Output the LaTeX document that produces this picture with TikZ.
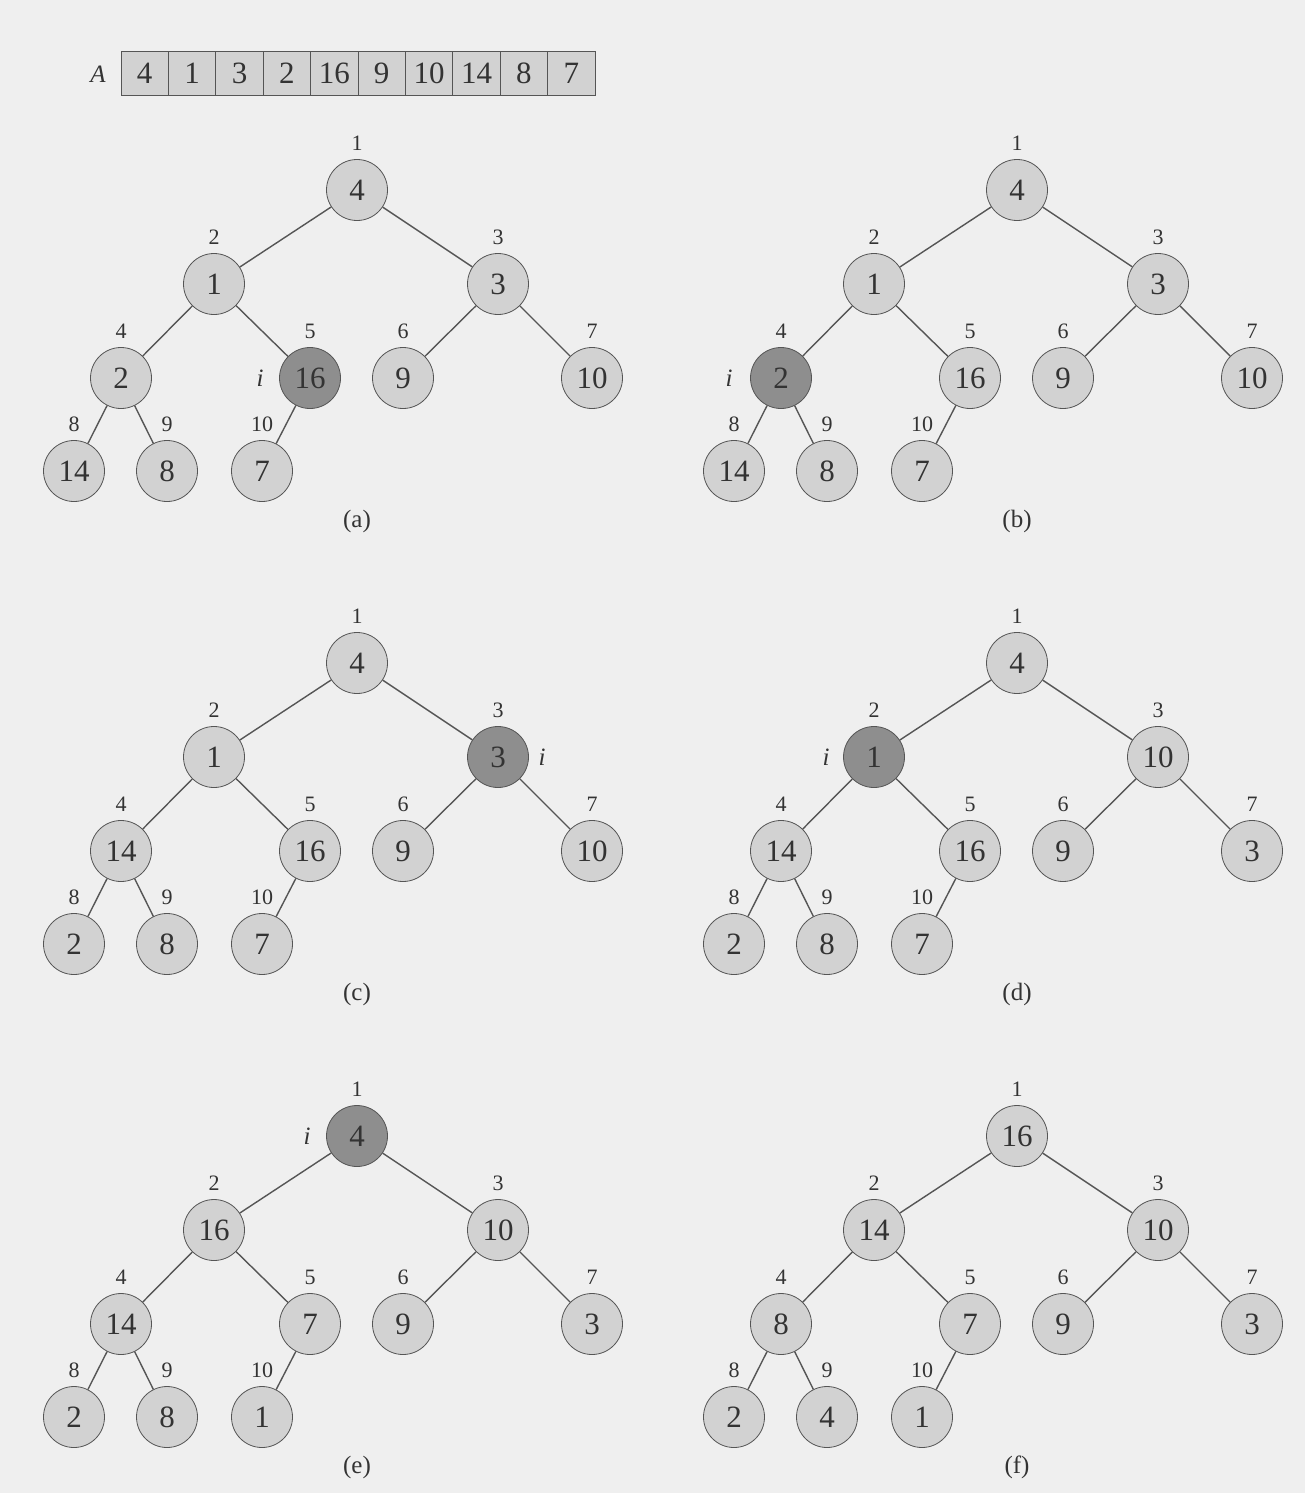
\documentclass[tikz,border=0pt]{standalone}
\usepackage{fontspec}
\setmainfont{Liberation Serif}
\definecolor{bgc}{HTML}{EFEFEF}
\definecolor{lightc}{HTML}{D2D2D2}
\definecolor{darkc}{HTML}{8E8E8E}
\definecolor{linec}{HTML}{555555}
\definecolor{textc}{HTML}{333333}
\newcommand\nodefont{\fontsize{31}{34}\selectfont}
\newcommand\idxfont{\fontsize{22}{24}\selectfont}
\newcommand\capfont{\fontsize{25}{28}\selectfont}
\tikzset{
  hnode/.style={circle, draw=linec, line width=0.8pt, minimum size=61pt, inner sep=0pt, text=textc, font=\nodefont},
  lightnode/.style={hnode, fill=lightc},
  darknode/.style={hnode, fill=darkc},
  idx/.style={text=textc, font=\idxfont, inner sep=0pt},
  ilab/.style={text=textc, font=\capfont\itshape, inner sep=0pt},
  caption/.style={text=textc, font=\capfont, inner sep=0pt},
  edge/.style={draw=linec, line width=1.4pt},
  cell/.style={draw=linec, line width=0.8pt, fill=lightc, minimum width=47.4pt, minimum height=44pt, inner sep=0pt, text=textc, font=\nodefont},
}
\def\px{{0,357,214,498,121,310,403,592,74,167,262}}
\def\py{{0,190,284,284,378,378,378,378,471,471,471}}
% #1 prefix, #2 dx, #3 dy, #4 values, #5 dark index, #6 i x-offset, #7 caption
\newcommand\drawheap[7]{%
  \foreach \v [count=\k] in {#4} {
    \pgfmathsetmacro\xx{\px[\k]+#2}
    \pgfmathsetmacro\yy{\py[\k]+#3}
    \ifnum\k=#5\relax
      \node[darknode] (#1\k) at (\xx,\yy) {\v};
      \node[ilab] (#1i) at (\xx+#6,\yy) {i};
    \else
      \node[lightnode] (#1\k) at (\xx,\yy) {\v};
    \fi
    \node[idx] (#1lab\k) at (\xx,\yy-47) {\k};
  }
  \foreach \k in {2,...,10} {
    \pgfmathtruncatemacro\pp{\k/2}
    \draw[edge] (#1\pp) -- (#1\k);
  }
  \node[caption] (#1cap) at (357+#2,521+#3) {(#7)};
}
\begin{document}
\begin{tikzpicture}[x=1pt,y=-1pt]
\fill[bgc] (0,0) rectangle (1305,1493);
\useasboundingbox (0,0) rectangle (1305,1493);
% array
\node[text=textc, font=\capfont\itshape, inner sep=0pt] (Alab) at (98,74) {A};
\foreach \v [count=\k] in {4,1,3,2,16,9,10,14,8,7} {
  \pgfmathsetmacro\cx{121+47.4*(\k-0.5)}
  \node[cell] (arr\k) at (\cx,73) {\v};
}
\drawheap{a}{0}{0}{4,1,3,2,16,9,10,14,8,7}{5}{-50}{a}
\drawheap{b}{660}{0}{4,1,3,2,16,9,10,14,8,7}{4}{-52}{b}
\drawheap{c}{0}{473}{4,1,3,14,16,9,10,2,8,7}{3}{44}{c}
\drawheap{d}{660}{473}{4,1,10,14,16,9,3,2,8,7}{2}{-48}{d}
\drawheap{e}{0}{946}{4,16,10,14,7,9,3,2,8,1}{1}{-50}{e}
\drawheap{f}{660}{946}{16,14,10,8,7,9,3,2,4,1}{0}{0}{f}
\end{tikzpicture}
\end{document}
